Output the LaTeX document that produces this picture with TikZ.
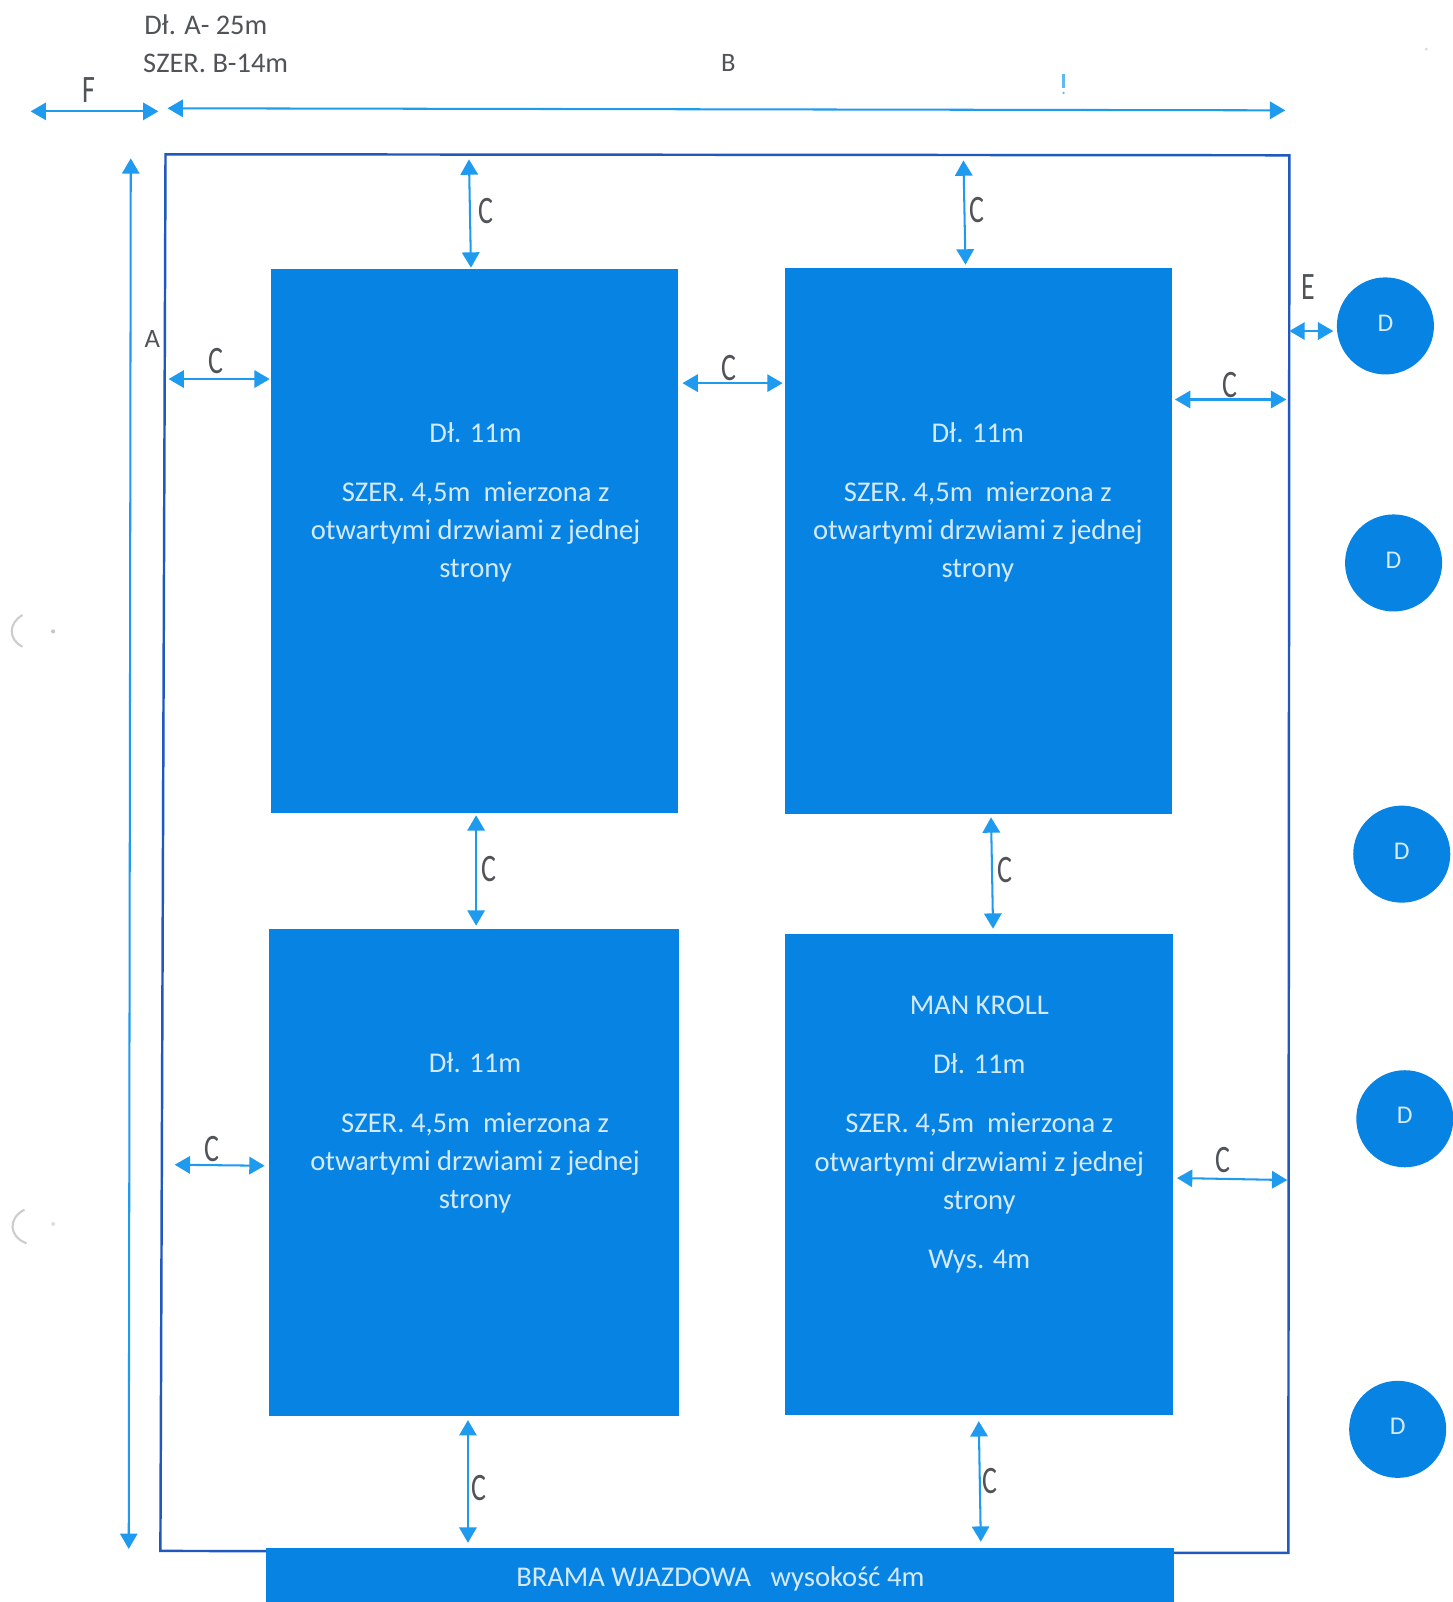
\documentclass[tikz,border=0pt]{standalone}
\usepackage{fontspec}
\setmainfont{Carlito}
\usetikzlibrary{arrows.meta}
\definecolor{boxblue}{HTML}{0783E4}
\definecolor{framec}{HTML}{2059BE}
\definecolor{arrowc}{HTML}{1E9BEE}
\definecolor{inktext}{HTML}{505458}
\definecolor{boxtext}{HTML}{D4EAFA}
\tikzset{
  x=1pt,y=-1pt,
  block/.style={fill=boxblue,draw=none},
  dim/.style={draw=arrowc,line width=2pt,{Triangle[length=15pt,width=17pt]}-{Triangle[length=15pt,width=17pt]}},
  boxlabel/.style={text=boxtext,font=\fontsize{28}{37.5}\selectfont,align=center,anchor=north,inner sep=0pt},
  pin/.style={circle,fill=boxblue,draw=none,minimum size=95pt,inner sep=0pt,text=boxtext,font=\fontsize{25}{30}\selectfont},
  hand/.style={text=inktext,font=\fontsize{38}{40}\selectfont,inner sep=0pt},
  print/.style={text=inktext,font=\fontsize{27.8}{30}\selectfont,inner sep=0pt},
}
\newcommand{\dimline}[6]{% name, x1,y1, x2,y2
  \coordinate (#1s) at (#2,#3);
  \coordinate (#1e) at (#4,#5);
  \draw[dim,#6] (#1s) -- (#1e);
}
\newcommand{\narrowlt}[1]{\scalebox{.72}[1]{#1}}
\newcommand{\blocktext}{Dł. 11m\\[20.5pt]SZER. 4,5m\ \ mierzona z\\otwartymi drzwiami z jednej\\strony}
\begin{document}
\begin{tikzpicture}
\path[use as bounding box,fill=white] (0,0) rectangle (1422,1568);

% frame
\draw[framec,line width=2.4pt,line join=miter] (162,151) -- (1262,152) -- (1261,1520) -- (157,1518) -- cycle;

% blocks
\fill[block] (265,263) rectangle (664,796);
\fill[block] (768,262) rectangle (1147,797);
\fill[block] (263,909) rectangle (665,1386);
\fill[block] (768,914) rectangle (1148,1385);
\fill[block] (260,1515) rectangle (1149,1568);

\node[boxlabel] (t1) at (465.5,413) {\blocktext};
\node[boxlabel] (t2) at (957,413) {\blocktext};
\node[boxlabel] (t3) at (465,1030.5) {\blocktext};
\node[boxlabel] (t4) at (958.5,974.5) {MAN KROLL\\[20.5pt]Dł. 11m\\[20.5pt]SZER. 4,5m\ \ mierzona z\\otwartymi drzwiami z jednej\\strony\\[20.5pt]Wys. 4m};
\node[text=boxtext,font=\fontsize{28}{30}\selectfont,inner sep=0pt] (gate) at (705,1545) {BRAMA WJAZDOWA\ \ \ wysokość 4m};

% circles
\node[pin] (d1) at (1356,319) {\raisebox{6pt}{D}};
\node[pin] (d2) at (1364,551) {\raisebox{6pt}{D}};
\node[pin] (d3) at (1372,836) {\raisebox{6pt}{D}};
\node[pin] (d4) at (1375,1095) {\raisebox{6pt}{D}};
\node[pin] (d5) at (1368,1399) {\raisebox{6pt}{D}};

% header
\node[print,anchor=west] (h1) at (141,24) {Dł. A- 25m};
\node[print,anchor=west] (h2) at (140,62) {SZER. B-14m};
\node[print,font=\fontsize{26}{30}\selectfont] (lb) at (713,62) {B};
\node[print,font=\fontsize{26}{30}\selectfont] (la) at (149,332) {A};
\node[hand] (lf) at (87,88) {\narrowlt{F}};

% dimension arrows
\dimline{f}{30}{109}{155}{109}{}
\dimline{b}{164}{106}{1258}{108}{}
\dimline{a}{128}{155}{126}{1516}{}
\dimline{c1}{459}{156}{461}{262}{}
\dimline{c2}{943}{157}{945}{259}{}
\dimline{c3}{165}{371}{264}{371}{}
\dimline{c4}{668}{375}{766}{375}{}
\dimline{c5}{1150}{391}{1259}{391}{}
\dimline{ee}{1262}{324}{1305}{324}{}
\dimline{c6}{466}{798}{466}{906}{}
\dimline{c7}{970}{800}{972}{909}{}
\dimline{c8}{171}{1140}{259}{1141}{}
\dimline{c9}{1152}{1153}{1260}{1155}{}
\dimline{c10}{458}{1390}{458}{1510}{}
\dimline{c11}{958}{1391}{960}{1509}{}

% hand letters
\node[hand] (lc1) at (476,207) {\narrowlt{C}};
\node[hand] (lc2) at (956,206) {\narrowlt{C}};
\node[hand] (lc3) at (211,353) {\narrowlt{C}};
\node[hand] (lc4) at (713,360) {\narrowlt{C}};
\node[hand] (lc5) at (1204,377) {\narrowlt{C}};
\node[hand] (lee) at (1281,281) {\narrowlt{E}};
\node[hand] (lc6) at (479,851) {\narrowlt{C}};
\node[hand] (lc7) at (984,852) {\narrowlt{C}};
\node[hand] (lc8) at (207,1125) {\narrowlt{C}};
\node[hand] (lc9) at (1197,1135) {\narrowlt{C}};
\node[hand] (lc10) at (469,1456) {\narrowlt{C}};
\node[hand] (lc11) at (969,1450) {\narrowlt{C}};

% faint scan marks
\draw[gray!40,line width=2pt] (22,602) .. controls (8,610) and (8,626) .. (22,633);
\fill[gray!45] (52,618) circle (2pt);
\draw[gray!40,line width=2pt] (24,1184) .. controls (8,1192) and (8,1210) .. (26,1217);
\fill[gray!25] (52,1198) circle (2pt);
\draw[arrowc!70,line width=2.5pt] (1041,72) -- (1041,86);
\fill[arrowc!70] (1041,91) circle (1.3pt);
\fill[gray!30] (1396,48) circle (1.5pt);
\end{tikzpicture}
\end{document}
